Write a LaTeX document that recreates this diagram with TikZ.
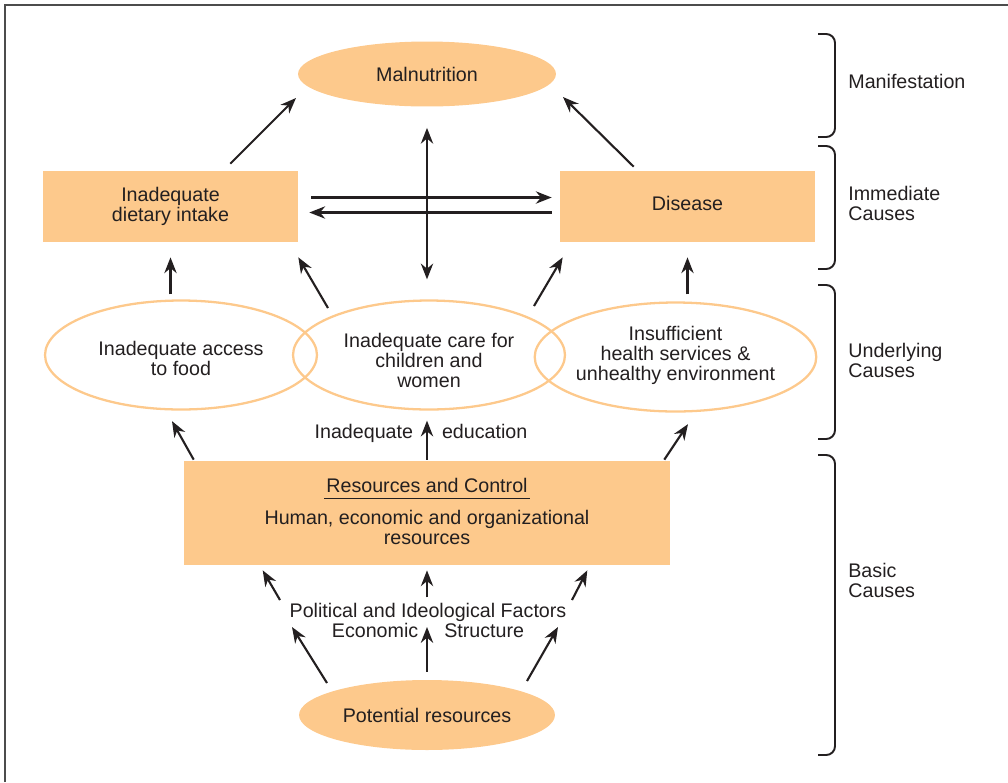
\documentclass[tikz,border=0pt]{standalone}
\usepackage{fontspec}
\setmainfont{Liberation Sans}
\usetikzlibrary{shapes.geometric, positioning, arrows.meta, calc}
\definecolor{paleorange}{RGB}{253,201,140}
\definecolor{inkgray}{RGB}{35,31,32}
\tikzset{
x=0.02cm, y=-0.02cm, % one unit is one pixel of the layout, y runs downwards
head/.tip={Stealth[length=9pt,width=7pt]}, % bold filled arrow heads
link/.style={-head, line width=1.2pt, draw=inkgray}, % the causal arrows
block/.style={rectangle, fill=paleorange, minimum width=5.1cm, minimum height=1.42cm, align=center}, % filled boxes
blob/.style={ellipse, fill=paleorange, minimum width=5.16cm, minimum height=1.3cm}, % filled ovals
ring/.style={ellipse, draw=paleorange, line width=1.3pt, minimum width=5.44cm, minimum height=2.18cm, inner sep=0pt, align=center}, % open ovals
brace/.style={line width=1.1pt, draw=inkgray, rounded corners=5pt}, % the brackets on the right
level/.style={anchor=west, align=left, inner sep=0pt}, % names of the levels
every node/.append style={text=inkgray},
}

\begin{document}
\begin{tikzpicture}[font=\fontsize{11.2}{11.4}\selectfont]
                \useasboundingbox (0,0) rectangle (1008,782);
                \draw[line width=1.2pt, draw=black!70] (5,782) -- (5,5) -- (1008,5);

                \node[blob] (mal) at (427,74) {Malnutrition};
                \node[block] (diet) at (170.5,206.5) {Inadequate\\dietary intake};
                \node[block] (dis) at (687.5,206.5) {\raisebox{4pt}{Disease}};
                \node[ring] (food) at (181,355) {\rule{0pt}{11.8pt}Inadequate access\\to food};
                \node[ring] (care) at (429,355) {\rule{0pt}{13.8pt}Inadequate care for\\children and\\women};
                \node[ring] (health) at (675.5,357) {Insufficient\\health services \&\\unhealthy environment\rule[-4.6pt]{0pt}{0pt}};
                \node[block, minimum width=9.72cm, minimum height=2.08cm] (res) at (427,513) {};
                \node[inner xsep=1pt] (resTitle) at (427,485) {Resources and Control};
                \draw[line width=0.6pt, draw=inkgray] (resTitle.south west) -- (resTitle.south east);
                \node[align=center] (resBody) at (427,527) {Human, economic and organizational\\resources};
                \node[blob, minimum width=5.12cm, minimum height=1.4cm] (pot) at (427,715) {Potential resources};
                \node (edu) at (421,433) {Inadequate\hspace{0.58cm}education};
                \node[align=center] (factors) at (428,620) {Political and Ideological Factors\\Economic\hspace{0.52cm}Structure};

                \node[level] (manif) at (848,81) {Manifestation};
                \node[level] (immed) at (848,203) {Immediate\\Causes};
                \node[level] (under) at (848,360) {Underlying\\Causes};
                \node[level] (basic) at (848,580) {Basic\\Causes};
                \draw[brace] (818,34) -| (835,137) -- (818,137);
                \draw[brace] (818,146) -| (835,269) -- (818,269);
                \draw[brace] (818,285) -| (835,439) -- (818,439);
                \draw[brace] (818,455) -| (835,755) -- (818,755);

                % immediate causes
                \draw[link] ($(diet.north east)+(-68,-7)$) -- ($(mal.center)+(-131,24)$);
                \draw[link] ($(dis.north west)+(74,-4)$) -- ($(mal.center)+(136,23)$);
                \draw[link, head-head] ($(mal.south)+(0,21)$) -- ($(mal.south |- care.north)+(0,-20)$);
                \draw[link] ($(diet.east)+(13,-9)$) -- ($(dis.west)+(-8,-9)$);
                \draw[link] ($(dis.west)+(-8,6)$) -- ($(diet.east)+(11,6)$);
                % underlying causes
                \draw[link] ($(diet.south |- food.north)+(0,-5)$) -- ($(diet.south)+(0,15)$);
                \draw[link] ($(care.center)+(-101,-47)$) -- ($(diet.south east)+(0,15)$);
                \draw[link] ($(care.center)+(105,-49)$) -- ($(dis.south west)+(3,15)$);
                \draw[link] ($(dis.south |- health.north)+(0,-7)$) -- ($(dis.south)+(0,15)$);
                % basic causes
                \draw[link] ($(res.north west)+(10,-1)$) -- ($(food.south)+(-9,10.5)$);
                \draw[link] ($(res.north)+(0,-1)$) -- ($(res.north |- care.south)+(0,10)$);
                \draw[link] ($(res.north east)+(-6,-1)$) -- ($(health.south)+(12.5,11.5)$);
                \draw[link] ($(pot.center)+(-100,-32)$) -- ($(factors.center)+(-136,7)$);
                \draw[link] ($(factors.center)+(-148,-20)$) -- ($(res.south west)+(79,5)$);
                \draw[link] ($(pot.north)+(0,-8)$) -- ($(pot.north |- factors.center)+(0,7)$);
                \draw[link] ($(res.south)+(0,32)$) -- ($(res.south)+(0,5)$);
                \draw[link] ($(pot.center)+(100,-34)$) -- ($(factors.center)+(130,7)$);
                \draw[link] ($(factors.center)+(144,-20)$) -- ($(res.south east)+(-83,5)$);
\end{tikzpicture}
\end{document}
